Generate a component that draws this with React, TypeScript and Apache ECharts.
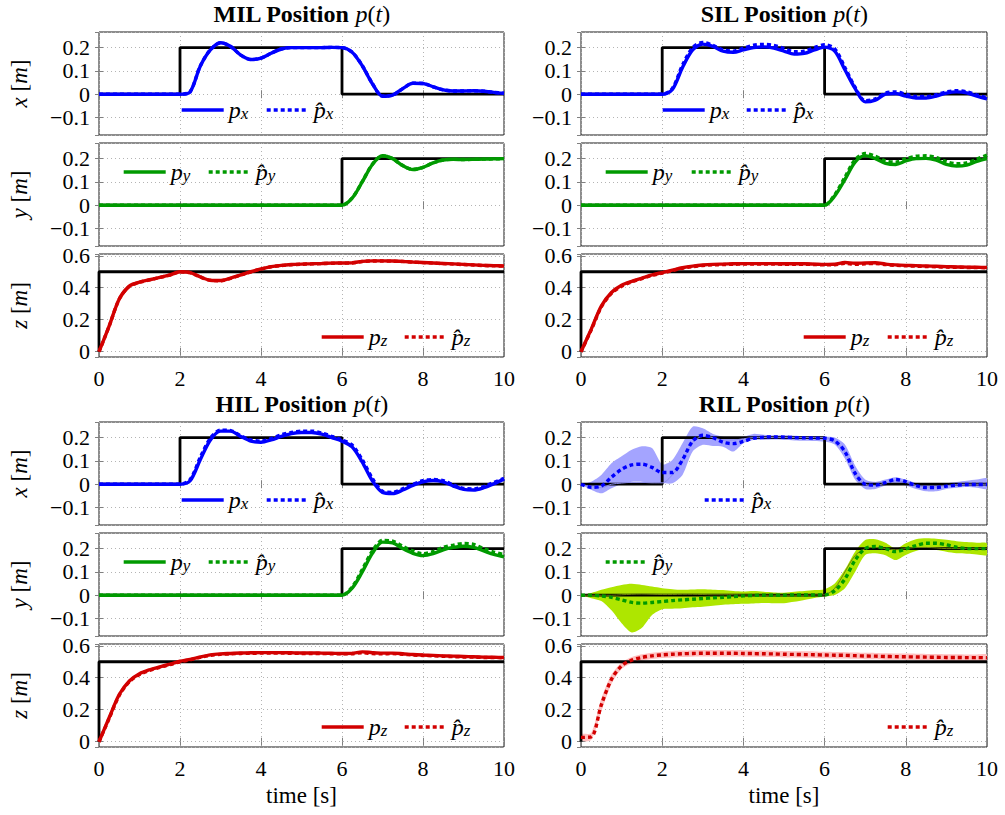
import React, { useEffect, useRef } from "react";
import * as echarts from "echarts";

// ---------------- data ----------------
const T = [0, 0.25, 0.5, 0.75, 1, 1.25, 1.5, 1.75, 2, 2.25, 2.5, 2.75, 3, 3.25, 3.5, 3.75, 4, 4.25, 4.5, 4.75, 5, 5.25, 5.5, 5.75, 6, 6.25, 6.5, 6.75, 7, 7.25, 7.5, 7.75, 8, 8.25, 8.5, 8.75, 9, 9.25, 9.5, 9.75, 10];

// reference set-points (black)
const refXT = [0, 2, 2, 6, 6, 10];
const refXV = [0, 0, 0.2, 0.2, 0, 0];
const refYT = [0, 6, 6, 10];
const refYV = [0, 0, 0.2, 0.2];
const refZT = [0, 0, 10];
const refZV = [0, 0.5, 0.5];

// MIL
const milX = [0, 0, 0, 0, 0, 0, 0, 0, 0, 0.01, 0.12, 0.19, 0.221, 0.205, 0.168, 0.149, 0.155, 0.176, 0.194, 0.2, 0.2, 0.2, 0.2, 0.201, 0.2, 0.18, 0.122, 0.045, -0.009, -0.004, 0.024, 0.047, 0.046, 0.032, 0.019, 0.014, 0.014, 0.015, 0.013, 0.008, 0.004];
const milXh = [0, 0, 0, 0, 0, 0, 0, 0, 0, 0.011, 0.121, 0.191, 0.221, 0.205, 0.168, 0.149, 0.155, 0.176, 0.194, 0.2, 0.2, 0.2, 0.2, 0.201, 0.2, 0.181, 0.123, 0.046, -0.008, -0.004, 0.024, 0.047, 0.046, 0.032, 0.019, 0.014, 0.014, 0.015, 0.013, 0.008, 0.004];
const milY = [0, 0, 0, 0, 0, 0, 0, 0, 0, 0, 0, 0, 0, 0, 0, 0, 0, 0, 0, 0, 0, 0, 0, 0, 0, 0.03, 0.1, 0.175, 0.212, 0.2, 0.17, 0.153, 0.162, 0.182, 0.194, 0.197, 0.196, 0.197, 0.198, 0.199, 0.2];
const milYh = [0, 0, 0, 0, 0, 0, 0, 0, 0, 0, 0, 0, 0, 0, 0, 0, 0, 0, 0, 0, 0, 0, 0, 0, 0, 0.031, 0.101, 0.176, 0.212, 0.2, 0.17, 0.153, 0.162, 0.182, 0.194, 0.197, 0.196, 0.197, 0.198, 0.199, 0.2];
const milZ = [0, 0.16, 0.33, 0.41, 0.435, 0.45, 0.465, 0.48, 0.5, 0.495, 0.468, 0.447, 0.445, 0.46, 0.48, 0.5, 0.518, 0.532, 0.54, 0.545, 0.548, 0.55, 0.552, 0.554, 0.555, 0.556, 0.565, 0.568, 0.568, 0.567, 0.565, 0.561, 0.558, 0.555, 0.552, 0.549, 0.546, 0.543, 0.54, 0.538, 0.536];
const milZh = [0, 0.159, 0.329, 0.409, 0.434, 0.449, 0.464, 0.479, 0.499, 0.494, 0.467, 0.446, 0.444, 0.459, 0.479, 0.499, 0.517, 0.531, 0.539, 0.544, 0.547, 0.549, 0.551, 0.553, 0.554, 0.555, 0.564, 0.567, 0.567, 0.566, 0.564, 0.56, 0.557, 0.554, 0.551, 0.548, 0.545, 0.542, 0.539, 0.537, 0.535];

// SIL
const silX = [0, 0, 0, 0, 0, 0, 0, 0, 0, 0.02, 0.115, 0.19, 0.215, 0.205, 0.185, 0.18, 0.19, 0.2, 0.203, 0.198, 0.185, 0.172, 0.175, 0.19, 0.202, 0.185, 0.105, 0.025, -0.033, -0.025, 0.0, 0.003, -0.008, -0.016, -0.016, -0.008, 0.005, 0.01, 0.006, -0.008, -0.02];
const silXh = [0, 0, 0, 0, 0, 0, 0, 0, 0, 0.025, 0.125, 0.2, 0.222, 0.21, 0.19, 0.185, 0.198, 0.21, 0.214, 0.21, 0.196, 0.182, 0.185, 0.2, 0.212, 0.195, 0.115, 0.03, -0.028, -0.02, 0.005, 0.01, 0.0, -0.01, -0.01, -0.002, 0.01, 0.015, 0.01, -0.003, -0.015];
const silY = [0, 0, 0, 0, 0, 0, 0, 0, 0, 0, 0, 0, 0, 0, 0, 0, 0, 0, 0, 0, 0, 0, 0, 0, 0, 0.04, 0.11, 0.185, 0.213, 0.2, 0.18, 0.175, 0.19, 0.2, 0.201, 0.193, 0.175, 0.168, 0.172, 0.188, 0.2];
const silYh = [0, 0, 0, 0, 0, 0, 0, 0, 0, 0, 0, 0, 0, 0, 0, 0, 0, 0, 0, 0, 0, 0, 0, 0, 0, 0.045, 0.12, 0.195, 0.222, 0.21, 0.19, 0.185, 0.2, 0.21, 0.212, 0.205, 0.187, 0.178, 0.182, 0.198, 0.215];
const silZ = [0, 0.14, 0.285, 0.37, 0.415, 0.44, 0.46, 0.48, 0.495, 0.51, 0.525, 0.535, 0.542, 0.546, 0.548, 0.55, 0.551, 0.551, 0.551, 0.551, 0.55, 0.55, 0.55, 0.548, 0.546, 0.547, 0.558, 0.553, 0.555, 0.556, 0.548, 0.543, 0.54, 0.538, 0.536, 0.534, 0.532, 0.53, 0.529, 0.528, 0.527];
const silZh = [0, 0.135, 0.28, 0.365, 0.41, 0.437, 0.457, 0.477, 0.492, 0.507, 0.522, 0.532, 0.539, 0.543, 0.545, 0.547, 0.548, 0.548, 0.548, 0.548, 0.547, 0.547, 0.547, 0.545, 0.543, 0.544, 0.553, 0.546, 0.55, 0.551, 0.545, 0.54, 0.537, 0.535, 0.533, 0.531, 0.529, 0.528, 0.527, 0.526, 0.525];

// HIL
const hilX = [0, 0, 0, 0, 0, 0, 0, 0, 0, 0.015, 0.105, 0.19, 0.228, 0.228, 0.205, 0.185, 0.18, 0.19, 0.205, 0.217, 0.222, 0.222, 0.215, 0.2, 0.185, 0.16, 0.095, 0.015, -0.035, -0.04, -0.025, -0.005, 0.01, 0.016, 0.01, -0.008, -0.022, -0.025, -0.015, 0.002, 0.022];
const hilXh = [0, 0, 0, 0, 0, 0, 0, 0, 0, 0.02, 0.115, 0.198, 0.232, 0.23, 0.208, 0.19, 0.185, 0.196, 0.212, 0.222, 0.228, 0.228, 0.22, 0.205, 0.19, 0.168, 0.105, 0.025, -0.03, -0.035, -0.02, 0.0, 0.015, 0.02, 0.015, -0.003, -0.018, -0.02, -0.01, 0.008, 0.025];
const hilY = [0, 0, 0, 0, 0, 0, 0, 0, 0, 0, 0, 0, 0, 0, 0, 0, 0, 0, 0, 0, 0, 0, 0, 0, 0, 0.03, 0.1, 0.18, 0.228, 0.225, 0.2, 0.18, 0.17, 0.178, 0.195, 0.205, 0.21, 0.205, 0.19, 0.175, 0.165];
const hilYh = [0, 0, 0, 0, 0, 0, 0, 0, 0, 0, 0, 0, 0, 0, 0, 0, 0, 0, 0, 0, 0, 0, 0, 0, 0, 0.035, 0.11, 0.19, 0.235, 0.232, 0.21, 0.19, 0.178, 0.187, 0.205, 0.215, 0.222, 0.218, 0.2, 0.185, 0.175];
const hilZ = [0, 0.15, 0.295, 0.38, 0.425, 0.45, 0.468, 0.485, 0.503, 0.515, 0.53, 0.543, 0.549, 0.552, 0.555, 0.556, 0.557, 0.557, 0.557, 0.556, 0.555, 0.555, 0.554, 0.553, 0.552, 0.553, 0.562, 0.557, 0.554, 0.554, 0.55, 0.545, 0.542, 0.54, 0.537, 0.535, 0.533, 0.531, 0.529, 0.528, 0.527];
const hilZh = [0, 0.145, 0.29, 0.375, 0.42, 0.446, 0.465, 0.482, 0.5, 0.512, 0.527, 0.54, 0.546, 0.549, 0.552, 0.553, 0.554, 0.554, 0.554, 0.553, 0.552, 0.552, 0.551, 0.55, 0.549, 0.55, 0.556, 0.551, 0.55, 0.551, 0.547, 0.542, 0.539, 0.537, 0.534, 0.532, 0.53, 0.529, 0.527, 0.526, 0.525];

// RIL (estimate, measured thin line, and spread band)
const rilXh = [0, -0.013, -0.008, 0.03, 0.064, 0.083, 0.086, 0.072, 0.05, 0.05, 0.105, 0.185, 0.21, 0.2, 0.18, 0.174, 0.184, 0.197, 0.202, 0.203, 0.202, 0.2, 0.199, 0.198, 0.197, 0.186, 0.14, 0.047, 0.0, -0.004, 0.007, 0.02, 0.011, -0.006, -0.014, -0.014, -0.008, -0.004, -0.001, -0.001, -0.001];
const rilXp = [0, -0.01, -0.015, 0.0, 0.005, 0.008, 0.008, 0.006, 0.006, 0.04, 0.1, 0.18, 0.205, 0.2, 0.19, 0.19, 0.195, 0.2, 0.2, 0.2, 0.2, 0.2, 0.2, 0.2, 0.2, 0.185, 0.14, 0.05, 0.0, -0.005, 0.005, 0.015, 0.008, -0.005, -0.012, -0.012, -0.006, -0.002, 0.0, 0.0, 0.0];
const rilXlo = [0, -0.024, -0.039, -0.017, 0.001, 0.011, 0.011, 0.007, 0.004, 0.004, 0.04, 0.14, 0.169, 0.164, 0.161, 0.14, 0.176, 0.19, 0.19, 0.192, 0.19, 0.188, 0.187, 0.186, 0.183, 0.17, 0.11, 0.02, -0.02, -0.02, -0.005, 0.005, -0.005, -0.02, -0.03, -0.03, -0.02, -0.015, -0.012, -0.015, -0.02];
const rilXhi = [0, 0.011, 0.04, 0.09, 0.12, 0.148, 0.163, 0.155, 0.085, 0.104, 0.176, 0.247, 0.24, 0.216, 0.204, 0.197, 0.204, 0.216, 0.212, 0.21, 0.21, 0.208, 0.207, 0.206, 0.205, 0.2, 0.17, 0.08, 0.02, 0.01, 0.02, 0.03, 0.02, 0.005, -0.002, -0.002, 0.005, 0.01, 0.015, 0.02, 0.025];
const rilYh = [0, 0, -0.003, -0.009, -0.02, -0.031, -0.034, -0.031, -0.027, -0.023, -0.02, -0.017, -0.014, -0.011, -0.009, -0.006, -0.003, -0.001, 0, 0, 0, 0.001, 0.001, 0.001, 0.001, 0.02, 0.07, 0.15, 0.2, 0.209, 0.2, 0.187, 0.199, 0.213, 0.223, 0.223, 0.216, 0.206, 0.2, 0.2, 0.2];
const rilYp = [0, 0, 0, 0, 0.002, 0.004, 0.005, 0.004, 0.003, 0.003, 0.004, 0.004, 0.003, 0.002, 0.002, 0.002, 0.001, 0.001, 0, 0, 0, 0, 0, 0.001, 0.002, 0.03, 0.1, 0.17, 0.2, 0.205, 0.2, 0.195, 0.2, 0.205, 0.205, 0.203, 0.2, 0.2, 0.2, 0.2, 0.2];
const rilYlo = [0, -0.013, -0.025, -0.065, -0.12, -0.16, -0.14, -0.085, -0.06, -0.058, -0.056, -0.052, -0.049, -0.045, -0.041, -0.039, -0.037, -0.035, -0.033, -0.034, -0.034, -0.028, -0.02, -0.012, -0.006, 0.001, 0.03, 0.1, 0.173, 0.18, 0.172, 0.151, 0.173, 0.19, 0.2, 0.194, 0.187, 0.18, 0.178, 0.175, 0.173];
const rilYhi = [0, 0.009, 0.023, 0.034, 0.044, 0.049, 0.044, 0.037, 0.03, 0.026, 0.023, 0.025, 0.026, 0.024, 0.022, 0.018, 0.016, 0.018, 0.015, 0.012, 0.011, 0.015, 0.018, 0.022, 0.026, 0.05, 0.11, 0.187, 0.237, 0.24, 0.225, 0.2, 0.223, 0.24, 0.244, 0.242, 0.238, 0.232, 0.228, 0.225, 0.223];
const rilZh = [0.027, 0.03, 0.23, 0.39, 0.475, 0.51, 0.527, 0.537, 0.543, 0.547, 0.55, 0.552, 0.553, 0.553, 0.553, 0.553, 0.552, 0.551, 0.55, 0.549, 0.547, 0.546, 0.545, 0.544, 0.542, 0.541, 0.54, 0.538, 0.536, 0.535, 0.533, 0.532, 0.531, 0.53, 0.529, 0.528, 0.527, 0.527, 0.526, 0.526, 0.525];
const rilZlo = [0.007, 0.01, 0.19, 0.36, 0.454, 0.49, 0.507, 0.517, 0.523, 0.527, 0.53, 0.532, 0.533, 0.533, 0.533, 0.533, 0.532, 0.531, 0.53, 0.529, 0.527, 0.526, 0.525, 0.524, 0.522, 0.521, 0.52, 0.518, 0.516, 0.515, 0.513, 0.512, 0.511, 0.51, 0.509, 0.508, 0.507, 0.507, 0.506, 0.506, 0.505];
const rilZhi = [0.047, 0.055, 0.27, 0.42, 0.496, 0.53, 0.547, 0.557, 0.563, 0.567, 0.57, 0.572, 0.573, 0.573, 0.573, 0.573, 0.572, 0.571, 0.57, 0.569, 0.567, 0.566, 0.565, 0.564, 0.562, 0.561, 0.56, 0.558, 0.556, 0.555, 0.553, 0.552, 0.551, 0.55, 0.549, 0.548, 0.547, 0.547, 0.546, 0.546, 0.545];

// ---------------- styling / layout ----------------
const FONT = "'Liberation Serif', serif";
const BLUE = "#0000ff";
const GREEN = "#009a00";
const RED = "#d20000";
const BAND = { x: "#a4a4ff", y: "#aee600", z: "#ffc0c0" } as Record<string, string>;
const THIN = { x: "#8a8ae8", y: "#6f7f10", z: "#f08080" } as Record<string, string>;
const DOT = [4, 3];

const COL_LEFT = [99, 581];
const COL_W = [405, 406];
const ROW_TOP = [32, 143, 254, 422, 533, 644];
const ROW_H = 103;

type Comp = "x" | "y" | "z";
const COMPS: Comp[] = ["x", "y", "z"];
const AXR: Record<Comp, { min: number; max: number; split: number; color: string }> = {
  x: { min: -0.175, max: 0.267, split: 5, color: BLUE },
  y: { min: -0.175, max: 0.267, split: 5, color: GREEN },
  z: { min: -0.033, max: 0.611, split: 3, color: RED },
};
const REF: Record<Comp, [number[], number[]]> = { x: [refXT, refXV], y: [refYT, refYV], z: [refZT, refZV] };

const LEG_ROW: Record<Comp, number> = { x: 73, y: 24, z: 78 };

interface CompData { p?: number[]; h: number[]; lo?: number[]; hi?: number[]; thin?: number[] }
interface Panel { name: string; col: number; half: number; data: Record<Comp, CompData>; leg: Record<Comp, [number | null, number]> }

const panels: Panel[] = [
  {
    name: "MIL", col: 0, half: 0,
    data: { x: { p: milX, h: milXh }, y: { p: milY, h: milYh }, z: { p: milZ, h: milZh } },
    leg: { x: [180, 265], y: [122, 207], z: [320, 403] },
  },
  {
    name: "SIL", col: 1, half: 0,
    data: { x: { p: silX, h: silXh }, y: { p: silY, h: silYh }, z: { p: silZ, h: silZh } },
    leg: { x: [661, 745], y: [604, 690], z: [802, 886] },
  },
  {
    name: "HIL", col: 0, half: 1,
    data: { x: { p: hilX, h: hilXh }, y: { p: hilY, h: hilYh }, z: { p: hilZ, h: hilZh } },
    leg: { x: [180, 265], y: [122, 207], z: [320, 403] },
  },
  {
    name: "RIL", col: 1, half: 1,
    data: {
      x: { h: rilXh, lo: rilXlo, hi: rilXhi, thin: rilXp },
      y: { h: rilYh, lo: rilYlo, hi: rilYhi, thin: rilYp },
      z: { h: rilZh, lo: rilZlo, hi: rilZhi },
    },
    leg: { x: [null, 703], y: [null, 604], z: [null, 886] },
  },
];

const pairs = (ts: number[], vs: number[]) => ts.map((t, i) => [t, vs[i]]);
const fmtY = (v: number) => {
  const r = Math.round(v * 100) / 100;
  if (r === 0) return "{n|0}";
  return "{n|" + (r < 0 ? "\u2212" : "") + String(Math.abs(r)) + "}";
};
const fmtX = (v: number) => "{n|" + String(Math.round(v)) + "}";
const numRich = { n: { fontFamily: FONT, fontSize: 22, color: "#000" } };

const richLegend = {
  i: { fontFamily: FONT, fontStyle: "italic", fontSize: 24, lineHeight: 24, color: "#000" },
  s: { fontFamily: FONT, fontStyle: "italic", fontSize: 17, lineHeight: 15, verticalAlign: "bottom", color: "#000" },
};

function buildOption() {
  const grid: any[] = [];
  const xAxis: any[] = [];
  const yAxis: any[] = [];
  const series: any[] = [];
  const legend: any[] = [];
  const labelMap: Record<string, string> = {};
  let g = 0;

  panels.forEach((P) => {
    COMPS.forEach((c, ri) => {
      const top = ROW_TOP[P.half * 3 + ri];
      const left = COL_LEFT[P.col];
      const width = COL_W[P.col];
      const A = AXR[c];
      grid.push({ left, top, width, height: ROW_H, show: true, borderColor: "#1a1a1a", borderWidth: 1, backgroundColor: "transparent", outerBoundsMode: "none" });
      const tick = { show: true, inside: true, length: 4, lineStyle: { color: "#808080", width: 1 } };
      const isBottom = c === "z";
      xAxis.push({
        type: "value", gridIndex: g, min: 0, max: 10, interval: 2, position: "bottom",
        axisLine: { show: false }, axisTick: tick,
        axisLabel: { show: isBottom, fontFamily: FONT, fontSize: 22, color: "#000", margin: 10, formatter: fmtX, rich: numRich },
        splitLine: { show: true, lineStyle: { color: "#b4b4b4", width: 1, type: [1, 3] } },
        name: isBottom && P.half === 1 ? "{r|time [s]}" : "", nameLocation: "middle", nameGap: 37,
        nameTextStyle: { fontFamily: FONT, fontSize: 23, color: "#000", rich: { r: { fontFamily: FONT, fontSize: 23, color: "#000" } } },
      });
      xAxis.push({
        type: "value", gridIndex: g, min: 0, max: 10, interval: 2, position: "top",
        axisLine: { show: false }, axisTick: tick, axisLabel: { show: false }, splitLine: { show: false },
      });
      yAxis.push({
        type: "value", gridIndex: g, min: A.min, max: A.max, splitNumber: A.split, position: "left",
        axisLine: { show: false }, axisTick: tick,
        axisLabel: { fontFamily: FONT, fontSize: 22, color: "#000", margin: 9, showMinLabel: false, showMaxLabel: false, formatter: fmtY, rich: numRich },
        splitLine: { show: true, lineStyle: { color: "#b4b4b4", width: 1, type: [1, 3] } },
        name: P.col === 0 ? `{i|${c}}{r| [}{i|m}{r|]}` : "", nameLocation: "middle", nameRotate: 90, nameGap: 68,
        nameTextStyle: {
          fontFamily: FONT, fontSize: 23, color: "#000",
          rich: { i: { fontFamily: FONT, fontStyle: "italic", fontSize: 23, color: "#000" }, r: { fontFamily: FONT, fontSize: 23, color: "#000" } },
        },
      });
      yAxis.push({
        type: "value", gridIndex: g, min: A.min, max: A.max, splitNumber: A.split, position: "right",
        axisLine: { show: false }, axisTick: tick, axisLabel: { show: false }, splitLine: { show: false },
      });

      const xi = 2 * g;
      const base = { type: "line", xAxisIndex: xi, yAxisIndex: xi, symbol: "none", showSymbol: false, silent: true, emphasis: { disabled: true }, animation: false };
      const D = P.data[c];
      const key = `${P.name}-${c}`;

      // spread band (RIL): polygon between lower and upper bounds, mapped through the axes
      if (D.lo && D.hi) {
        const lo = D.lo;
        const hi = D.hi;
        const fill = BAND[c];
        series.push({
          type: "custom", name: key + "-band", xAxisIndex: xi, yAxisIndex: xi, silent: true, animation: false, clip: true,
          data: T.map((t, i) => [t, lo[i], hi[i]]),
          encode: { x: 0, y: [1, 2] },
          renderItem: (params: any, api: any) => {
            if (params.dataIndex !== 0) return null;
            const pts: number[][] = [];
            for (let i = 0; i < T.length; i++) pts.push(api.coord([T[i], hi[i]]));
            for (let i = T.length - 1; i >= 0; i--) pts.push(api.coord([T[i], lo[i]]));
            return { type: "polygon", shape: { points: pts, smooth: 0.25 }, style: { fill, stroke: "none" } };
          },
        });
      }
      // reference
      series.push({ ...base, name: key + "-ref", data: pairs(REF[c][0], REF[c][1]), clip: false, lineStyle: { color: "#000", width: 2.8 }, itemStyle: { color: "#000" } });
      if (D.thin) {
        series.push({ ...base, name: key + "-thin", data: pairs(T, D.thin), smooth: 0.3, lineStyle: { color: THIN[c], width: 1 }, itemStyle: { color: THIN[c] } });
      }
      const legTop = top + LEG_ROW[c] - 7;
      if (D.p) {
        const nm = key + "-p";
        series.push({ ...base, name: nm, data: pairs(T, D.p), smooth: 0.3, lineStyle: { color: A.color, width: 3.4 }, itemStyle: { color: A.color } });
        labelMap[nm] = `{i|p}{s|${c}}`;
        legend.push({
          data: [nm], left: P.leg[c][0], top: legTop, itemWidth: 42, itemHeight: 14, itemGap: 0, padding: 0, selectedMode: false,
          formatter: (n: string) => labelMap[n], textStyle: { fontFamily: FONT, fontSize: 24, color: "#000", rich: richLegend },
          itemStyle: { opacity: 0 }, lineStyle: { width: 3.4, type: "solid", color: A.color },
        });
      }
      const nh = key + "-h";
      series.push({ ...base, name: nh, data: pairs(T, D.h), smooth: 0.3, lineStyle: { color: A.color, width: 3.4, type: DOT, cap: "butt" }, itemStyle: { color: A.color } });
      labelMap[nh] = `{i|p\u0302}{s|${c}}`;
      legend.push({
        data: [nh], left: P.leg[c][1], top: legTop, itemWidth: 42, itemHeight: 14, itemGap: 0, padding: 0, selectedMode: false,
        formatter: (n: string) => labelMap[n], textStyle: { fontFamily: FONT, fontSize: 24, color: "#000", rich: richLegend },
        itemStyle: { opacity: 0 }, lineStyle: { width: 3.4, type: DOT, color: A.color },
      });
      g++;
    });
  });

  const titleRich = {
    b: { fontFamily: FONT, fontWeight: "bold", fontSize: 24, fill: "#000", color: "#000" },
    i: { fontFamily: FONT, fontStyle: "italic", fontSize: 24, fill: "#000", color: "#000" },
    r: { fontFamily: FONT, fontSize: 24, fill: "#000", color: "#000" },
  };
  const graphic = panels.map((P) => ({
    type: "text",
    x: COL_LEFT[P.col] + COL_W[P.col] / 2,
    y: P.half === 0 ? 14 : 404,
    silent: true,
    style: {
      text: `{b|${P.name} Position }{i|p}{r|(}{i|t}{r|)}`,
      rich: titleRich,
      align: "center",
      verticalAlign: "middle",
      fill: "#000",
      font: `bold 24px ${FONT}`,
    },
  }));

  return { animation: false, backgroundColor: "#fff", textStyle: { fontFamily: FONT }, grid, xAxis, yAxis, series, legend, graphic };
}

export default function App() {
  const ref = useRef<HTMLDivElement>(null);
  useEffect(() => {
    document.body.style.margin = "0";
    const chart = echarts.init(ref.current!, null, { renderer: "svg" });
    chart.setOption(buildOption() as any);
    return () => chart.dispose();
  }, []);
  return <div ref={ref} style={{ width: 1005, height: 815 }} />;
}
